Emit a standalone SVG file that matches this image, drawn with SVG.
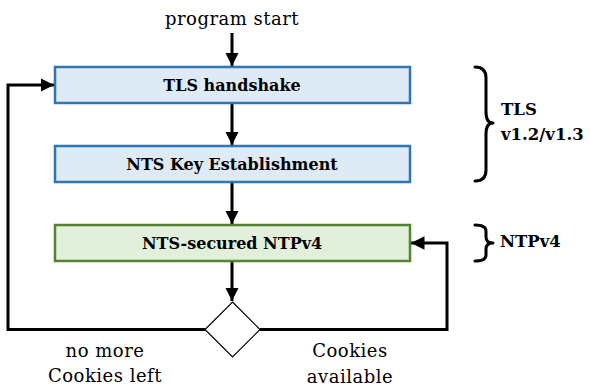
<svg xmlns="http://www.w3.org/2000/svg" width="590" height="389" viewBox="0 0 590 389">
  <style>
    .blue { fill: #deeaf6; stroke: #2e75b6; stroke-width: 2.5; }
    .green { fill: #e2efda; stroke: #548235; stroke-width: 2.5; }
    .label { font-family: "DejaVu Serif", "Liberation Serif", serif; font-weight: bold; font-size: 16px; fill: #000; text-anchor: middle; }
    .note { font-family: "DejaVu Serif", "Liberation Serif", serif; font-size: 18px; fill: #000; text-anchor: middle; letter-spacing: 0.5px; }
    .side { font-family: "DejaVu Serif", "Liberation Serif", serif; font-weight: bold; font-size: 16.5px; fill: #000; }
    .wire { fill: none; stroke: #000; stroke-width: 3; }
    .brace { fill: none; stroke: #000; stroke-width: 3; stroke-linecap: round; stroke-linejoin: round; }
  </style>
  <defs>
    <marker id="arrow" viewBox="0 0 10 10" refX="10" refY="5" markerWidth="4.5" markerHeight="4.5" markerUnits="strokeWidth" orient="auto">
      <path d="M0,0 L10,5 L0,10 z" fill="#000"/>
    </marker>
  </defs>

  <!-- start label -->
  <text class="note" x="232" y="25">program start</text>

  <!-- connectors -->
  <g id="connectors">
    <line class="wire" x1="232" y1="33" x2="232" y2="66" marker-end="url(#arrow)"/>
    <line class="wire" x1="232" y1="104" x2="232" y2="145" marker-end="url(#arrow)"/>
    <line class="wire" x1="232" y1="183" x2="232" y2="224" marker-end="url(#arrow)"/>
    <line class="wire" x1="232" y1="262" x2="232" y2="301" marker-end="url(#arrow)"/>
    <polyline class="wire" points="205,329.5 8,329.5 8,85 54,85" marker-end="url(#arrow)"/>
    <polyline class="wire" points="260,329.5 447,329.5 447,243 411,243" marker-end="url(#arrow)"/>
  </g>

  <g id="tls-handshake">
    <rect class="blue" x="55" y="67" width="355" height="36"/>
    <text class="label" x="232" y="91">TLS handshake</text>
  </g>

  <g id="nts-ke">
    <rect class="blue" x="55" y="146" width="355" height="36"/>
    <text class="label" x="232" y="170">NTS Key Establishment</text>
  </g>

  <g id="nts-ntp">
    <rect class="green" x="55" y="225" width="355" height="36"/>
    <text class="label" x="232" y="249">NTS-secured NTPv4</text>
  </g>

  <g id="decision">
    <polygon points="232.5,302 260,329.5 232.5,357 205,329.5" fill="#fff" stroke="#000" stroke-width="1.2"/>
  </g>

  <g id="label-no-more">
    <text class="note" x="105" y="357">no more</text>
    <text class="note" x="105" y="382">Cookies left</text>
  </g>

  <g id="label-available">
    <text class="note" x="350" y="357">Cookies</text>
    <text class="note" x="350" y="383">available</text>
  </g>

  <g id="brace-tls">
    <path class="brace" d="M475,67 Q486,67 486,78 L486,112 Q486,123 493,123 Q486,123 486,134 L486,170 Q486,181 475,181"/>
    <text class="side" x="501" y="115">TLS</text>
    <text class="side" x="501" y="140">v1.2/v1.3</text>
  </g>

  <g id="brace-ntp">
    <path class="brace" d="M475,225 Q486,225 486,231 L486,237 Q486,243 493,243 Q486,243 486,249 L486,255 Q486,261 475,261"/>
    <text class="side" x="500" y="247">NTPv4</text>
  </g>
</svg>
